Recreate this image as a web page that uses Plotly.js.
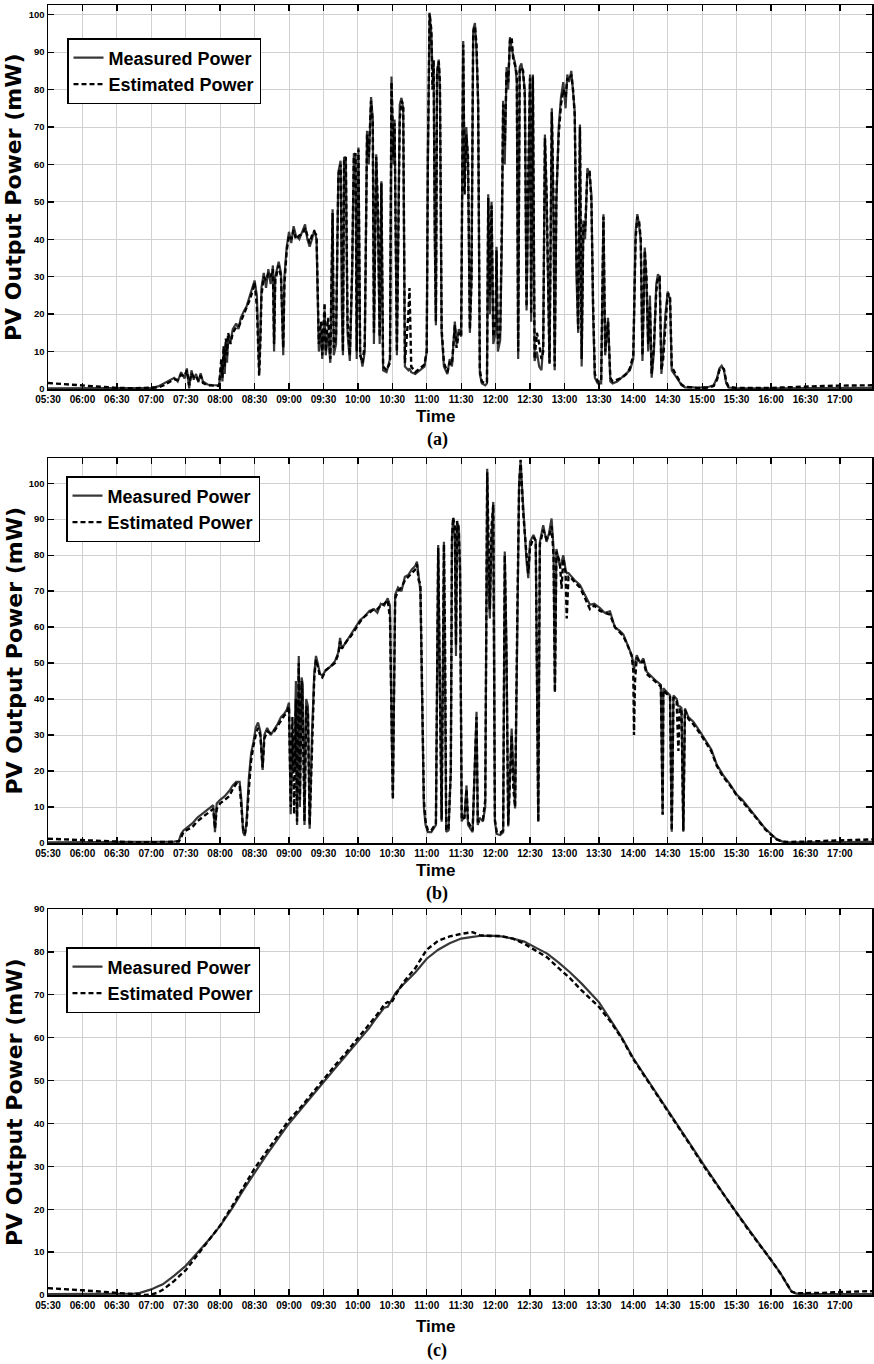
<!DOCTYPE html>
<html>
<head>
<meta charset="utf-8">
<script src="https://cdn.plot.ly/plotly-3.0.1.min.js"></script>
<style>html,body{margin:0;padding:0;background:#fff;}#chart{width:874px;height:1364px;}</style>
</head>
<body>
<div id="chart"></div>
<script>
// ---------- tick labels ----------
const tickLabels = ["05:30","06:00","06:30","07:00","07:30","08:00","08:30","09:00","09:30","10:00","10:30","11:00","11:30","12:00","12:30","13:00","13:30","14:00","14:30","15:00","15:30","16:00","16:30","17:00"];
const seriesNames = ["Measured Power", "Estimated Power"];
const panelLabels = ["(a)", "(b)", "(c)"];

// ---------- panel (a): time in minutes after midnight ----------
const timeA = [330,340,350,360,375,390,405,420,426,431,436,440,443,446,449,451,453,455,457,459,461,463,465,469,474,479,481,482,483,484,485,486,487,489,491,494,496,498,501,503,506,509,510,512,513,514,515,516,518,520,522,524,526,527,528,531,533,535,536,538,540,542,544,546,549,552,554,556,558,560,562,564,565,566,568,569,571,572,574,576,578,579,581,583,585,586,587,588,589.5,591,593,595,596.5,598,599,600.5,602,604,606,608,609.5,611.5,613,614,616,617.5,619,620.5,622,625,628,629.3,631,632,634,636.5,638,639.5,641,644,645,646.5,650,654,658,660,661,662.5,664,665,666,667,668,669,670.5,671.5,673,675,678,680,682,684.5,686,688,690,691.8,693,694.5,696,697.6,699,700.5,702,703.4,704.8,706.3,708,711,712.5,713.6,715,716.5,718,720,720.8,722,724,725.5,726.6,728,729.6,731,732.5,734,735.4,737,738.5,739.7,741,742.5,744,745.5,747,748.5,750,751,752.5,754,756,758,760,761.5,763,764.5,766,767,769,770.5,771.5,773,775,777,779,781,782.5,784,786,787.5,789,790.5,792,793.5,795,796.5,798,800,802,803.5,805,806.5,809,812,814,815.5,818,820,822,826,830,834,837,840,842,843.5,845,846.5,848,850,851.5,853,854.5,856,858,860,861.5,863,864.5,866,868,870,872,873.5,876,879,882,885,890,896,902,906,910,913,915,917,919,921,923,930,960,975,990,1005,1020,1035,1050];
const measA = [0.2,0.2,0.2,0.2,0.2,0.2,0.2,0.3,0.7,1.5,2.2,3.0,2.0,4.5,2.8,5.5,0.2,5.0,2.5,4.0,1.8,4.2,2.0,1.2,1.0,1.0,6.0,2.0,10.0,4.0,12.0,7.0,14.0,12.5,16.0,17.5,16.0,19.0,21.0,22.0,25.0,28.0,29.0,25.0,12.0,5.0,14.0,27.0,31.0,27.0,32.0,28.0,33.0,10.0,30.0,34.0,31.0,9.0,30.0,38.0,42.0,39.0,43.5,41.0,40.0,42.5,44.0,40.0,38.0,40.0,42.5,40.0,25.0,10.0,15.0,8.0,21.0,9.0,15.0,7.0,48.0,9.0,12.0,58.0,61.0,22.0,9.0,62.0,61.0,15.0,7.5,30.0,63.0,62.0,8.0,64.5,10.0,6.0,10.0,69.0,60.0,78.0,72.0,12.0,62.7,45.0,12.0,55.5,5.0,4.5,8.0,83.5,60.0,72.0,9.0,76.0,77.8,75.0,6.0,5.0,5.5,4.5,4.0,5.0,6.0,10.0,60.0,100.0,95.0,85.0,87.5,40.0,17.0,85.0,88.0,80.0,15.0,6.0,4.0,8.0,6.0,18.0,12.0,16.0,14.0,93.0,55.0,70.0,60.0,15.0,30.0,96.0,97.8,90.0,77.0,4.0,1.5,1.0,1.5,52.0,20.0,50.0,12.0,15.0,38.0,10.0,13.0,40.0,77.0,60.0,86.0,80.0,94.0,91.0,89.0,87.0,82.0,8.0,86.0,87.0,84.0,80.0,21.0,60.0,84.0,18.0,84.0,7.5,10.0,6.0,5.0,12.0,68.0,50.0,15.0,6.7,75.0,45.0,5.0,50.0,70.0,78.0,82.0,75.0,84.0,82.0,85.0,78.0,74.0,30.0,15.0,70.7,6.0,45.0,40.0,59.0,57.0,52.0,20.0,3.0,1.5,1.5,46.7,9.0,19.0,2.0,1.5,2.0,3.0,4.0,5.0,8.0,42.0,46.7,44.0,39.6,7.5,37.8,28.0,10.0,25.0,3.0,10.0,28.0,30.7,29.0,4.0,10.0,20.0,26.0,24.0,5.0,4.0,2.5,1.0,0.4,0.5,0.3,0.5,0.6,1.0,3.0,5.5,6.2,5.0,1.5,0.4,0.2,0.2,0.2,0.3,0.3,0.3,0.3,0.3];
const estA = [1.6,1.4,1.1,0.8,0.5,0.3,0.2,0.2,0.4,1.0,1.8,2.6,2.4,3.8,3.4,5.0,1.0,4.2,3.2,3.5,2.2,3.6,1.6,1.0,0.9,0.8,8.0,3.0,11.5,6.0,13.5,9.0,15.0,12.0,15.0,16.5,16.5,18.0,20.0,21.5,24.0,27.0,28.5,22.0,9.0,3.5,12.0,25.0,30.0,29.0,31.0,30.0,32.0,12.0,29.0,33.0,30.0,11.0,28.0,37.0,41.0,40.0,42.5,40.0,41.0,41.5,43.0,41.0,39.0,41.0,42.0,41.0,30.0,12.0,18.0,9.0,23.0,10.0,19.0,8.0,47.0,11.0,14.0,57.0,60.0,24.0,10.0,61.5,62.0,18.0,9.0,32.0,62.0,63.0,10.0,64.0,9.0,7.0,12.0,68.0,62.0,77.0,71.0,15.0,62.0,48.0,14.0,55.0,6.0,5.0,7.0,82.0,62.0,71.0,10.0,72.0,77.0,76.0,7.0,20.0,27.0,6.0,4.5,5.5,6.5,10.0,62.0,100.5,96.0,80.0,88.0,45.0,18.0,84.0,87.5,82.0,16.0,7.0,4.5,7.0,6.5,17.0,11.0,15.0,14.0,92.0,52.0,68.0,62.0,16.0,28.0,95.0,97.0,92.0,76.0,5.0,2.0,1.5,2.0,51.0,25.0,49.0,14.0,18.0,37.0,12.0,15.0,45.0,76.0,65.0,85.0,82.0,93.0,94.0,88.0,86.5,84.0,10.0,85.0,86.0,85.0,78.0,22.0,58.0,83.0,20.0,83.5,8.0,15.0,12.0,8.0,10.0,67.0,52.0,18.0,7.0,74.0,50.0,6.0,52.0,68.0,76.0,80.0,78.0,83.0,82.5,84.0,80.0,73.0,35.0,16.0,70.0,8.0,44.0,42.0,58.0,58.0,50.0,22.0,4.0,2.0,2.0,46.0,10.0,18.0,3.0,2.0,2.5,3.0,4.0,5.5,9.0,40.0,46.0,45.0,40.0,9.0,37.0,30.0,12.0,22.0,4.0,12.0,26.0,30.0,30.0,5.0,8.0,18.0,25.5,25.0,6.0,4.5,3.0,1.2,0.6,0.4,0.3,0.3,0.4,0.8,2.5,5.0,5.8,5.3,2.0,0.6,0.3,0.3,0.5,0.7,0.8,0.9,1.0,1.0];

// ---------- panel (b) ----------
const timeB = [330,345,360,375,390,405,420,430,440,444,446,448,452,456,460,464,468,472,474,475.5,477,480,484,488,491,494,497,498.5,500,501.5,503,505,507,509,511,513,515,517,518.5,521,524,527,530,533,536,538,540,541.5,543,544.5,546,547,548.5,549.5,551,552,553.5,555,556.5,558,560,562,563.5,565,567,569,572,576,580,583,584.5,586,590,594,598,602,606,610,614,617,620,623,626,628,629.5,630.5,631.5,632.5,635,638,641,644,647,650,651.5,653,654.5,656,657.5,659,661,664,666,668,670,671.5,673,675,676,677,679,681,682,683,684.5,685.5,686.5,688,689,690.5,693,694.7,696,700,703.4,704.5,706,709,711,712.7,714,715,716.5,718,719.4,721,724,726.6,728,729.6,731,734,735.5,737,739,740.5,741.8,743,744,747,748.5,750,753,755,756.5,757.2,758,758.6,761.5,764.4,766.5,768.8,770.5,771.7,773,776,777.5,779,781,782,783.5,785,789,793.5,798,802.2,806,811,815,819.7,824,828,831.3,835,838.6,840,840.6,841.5,843,846,848.8,851.7,855,860.4,864,865.6,866.2,869,872,873.5,875,877.8,879.3,880.5,882,883.6,885,888,892.3,898,904,908,912.7,918,924.3,930,935,940,945,950,955,960,965,970,975,990,1005,1020,1035,1048];
const measB = [0.2,0.2,0.2,0.2,0.2,0.2,0.2,0.3,0.4,0.6,2.5,3.5,4.5,5.5,7.0,8.0,9.0,10.0,10.5,3.0,11.0,12.0,13.0,14.5,16.0,17.0,17.0,12.0,3.0,2.0,6.0,18.0,25.0,28.0,32.0,33.5,31.0,20.3,30.0,32.0,30.0,31.5,33.0,35.0,36.0,37.0,39.0,8.0,30.0,20.0,45.0,5.0,52.0,10.0,46.0,44.0,5.0,40.0,38.0,4.0,30.0,47.0,52.0,50.0,47.0,46.5,48.0,49.0,50.5,53.0,57.0,54.0,56.0,58.0,60.0,62.0,63.0,64.5,65.0,64.0,66.5,66.0,68.0,66.0,30.0,13.0,40.0,69.0,71.0,70.0,74.0,74.5,76.0,77.0,78.2,74.0,70.0,40.0,10.0,5.0,3.0,3.0,4.0,5.0,82.8,40.0,5.9,83.7,50.0,3.1,3.5,20.0,85.0,90.0,85.0,52.0,89.0,88.0,76.0,6.0,8.0,16.0,5.0,3.0,36.5,5.0,7.0,6.0,10.0,104.0,70.0,62.4,85.0,94.8,5.9,2.5,2.2,3.0,81.0,52.0,4.6,31.8,20.0,9.6,60.0,100.0,106.0,98.5,93.9,78.2,73.6,83.7,85.6,84.0,20.0,5.9,50.0,83.7,88.3,83.7,86.0,90.2,82.0,42.0,81.7,77.0,78.0,80.0,76.0,75.0,75.0,74.4,73.0,71.7,69.0,66.2,66.5,65.3,64.0,64.4,59.9,59.0,58.0,55.0,52.2,50.0,48.0,50.0,52.2,50.0,51.3,47.6,46.5,44.9,44.0,7.8,43.0,42.0,41.0,3.1,41.0,40.0,38.0,38.0,37.5,3.1,37.4,35.0,33.7,31.0,28.2,26.0,21.8,19.0,16.3,13.5,12.0,10.0,8.0,6.0,4.0,2.5,1.0,0.4,0.2,0.2,0.2,0.3,0.3,0.3];
const estB = [1.2,1.0,0.7,0.5,0.3,0.2,0.2,0.2,0.3,0.4,1.5,3.0,3.8,4.5,6.0,7.0,8.0,9.0,9.5,4.0,9.5,11.0,12.0,13.0,15.0,16.5,16.0,10.0,4.0,2.5,5.0,15.0,23.0,27.0,30.0,32.0,30.0,21.0,29.0,31.0,30.5,31.0,32.5,34.0,35.5,36.0,38.0,10.0,35.0,8.0,40.0,6.0,50.0,12.0,45.0,35.0,6.0,38.0,36.0,5.0,28.0,46.0,51.0,49.0,46.5,46.0,48.0,49.0,50.0,52.5,56.0,54.0,56.0,57.5,59.5,61.5,63.0,64.0,65.0,65.0,66.0,66.5,67.5,62.5,30.0,12.0,42.0,68.0,70.0,71.0,73.0,74.0,75.0,76.0,77.5,73.0,72.0,45.0,12.0,6.0,3.5,3.5,4.5,5.0,82.0,42.0,6.5,83.0,55.0,3.5,4.0,20.0,84.0,90.5,88.0,55.0,89.5,86.0,76.0,6.5,7.0,15.0,6.0,3.5,35.0,6.0,6.0,6.5,12.0,103.0,75.0,65.0,88.0,94.0,6.5,3.0,2.8,3.5,80.0,50.0,5.0,30.0,15.0,10.0,65.0,99.0,106.5,99.0,92.0,80.0,75.0,82.0,85.0,84.0,25.0,6.0,55.0,83.0,87.0,84.5,85.0,88.0,80.0,42.0,81.0,78.0,70.7,79.0,75.0,62.4,74.0,74.0,72.5,71.0,68.0,65.0,66.0,64.5,64.0,63.5,60.0,58.5,57.5,55.0,52.0,48.0,30.0,45.0,51.5,50.0,50.5,47.0,46.0,44.5,43.5,8.0,42.5,41.5,41.0,3.5,40.5,39.5,25.6,37.5,37.0,3.5,37.0,34.5,33.0,30.5,27.5,25.5,21.5,18.5,16.0,13.3,11.5,9.8,7.8,5.8,3.8,2.3,1.0,0.4,0.3,0.4,0.6,0.8,0.9,1.0];

// ---------- panel (c) ----------
const timeC = [330,345,360,375,390,400,405,410,415,420,425,430,440,450,460,470,480,490,500,510,520,530,540,550,560,570,580,590,600,610,615,620,623,626,629,633,640,650,660,670,680,690,700,706,715,725,735,745,755,765,775,785,795,805,810,820,830,840,850,860,870,880,890,900,910,920,930,940,950,960,968,975,978,982,990,1005,1020,1035,1048];
const measC = [0.2,0.2,0.2,0.2,0.2,0.2,0.3,0.5,0.9,1.3,1.9,2.5,4.5,6.8,9.8,12.8,16.1,20.0,24.4,28.6,32.5,36.3,40.0,43.2,46.5,49.6,52.8,56.0,59.0,62.3,64.2,66.0,67.0,67.2,68.5,70.5,72.5,75.2,78.4,80.5,82.0,83.1,83.5,83.7,83.8,83.6,83.1,82.4,81.0,79.6,77.5,75.2,72.6,69.8,68.3,64.2,60.0,55.2,51.2,47.3,43.3,39.1,35.0,30.9,26.8,23.0,19.2,15.5,11.8,8.3,5.2,2.0,0.8,0.3,0.2,0.2,0.2,0.2,0.2];
const estC = [1.6,1.4,1.1,0.8,0.5,0.3,0.1,0.0,0.0,0.1,0.5,1.2,3.3,5.8,9.2,12.6,16.2,20.5,25.0,29.5,33.3,37.0,40.8,43.7,47.0,50.2,53.5,56.6,59.8,63.0,64.8,66.5,67.8,68.3,68.0,70.0,73.0,76.2,80.5,82.6,83.6,84.2,84.6,83.9,83.7,83.7,83.1,81.9,80.3,78.7,76.2,73.8,71.0,68.5,67.2,63.8,59.8,55.0,51.0,47.0,43.0,39.0,34.8,30.6,26.7,22.9,19.0,15.3,11.7,8.2,5.1,2.1,0.8,0.4,0.4,0.5,0.7,0.8,0.9];

// ---------- build ----------
const W = 874, H = 1364;
const tickVals = tickLabels.map(s => { const p = s.split(":"); return (+p[0]) * 60 + (+p[1]); });
const px = v => v / W;
const py = v => 1 - v / H;

const panels = [
  {t: timeA, m: measA, e: estA, top: 5, bot: 389, yr: [0, 102.6], leg: [67, 38], timeY: 417, labY: 440},
  {t: timeB, m: measB, e: estB, top: 458, bot: 843, yr: [0, 107], leg: [66, 476], timeY: 870, labY: 893},
  {t: timeC, m: measC, e: estC, top: 909, bot: 1295, yr: [0, 90], leg: [66, 947], timeY: 1326, labY: 1350}
];

const traces = [];
const layout = {
  width: W, height: H,
  margin: {l: 0, r: 0, t: 0, b: 0},
  paper_bgcolor: "#fff", plot_bgcolor: "#fff",
  showlegend: true,
  annotations: []
};
const tickFontX = {family: "Liberation Sans, Arial, sans-serif", size: 10, color: "#000", weight: "bold"};
const tickFontY = {family: "Liberation Sans, Arial, sans-serif", size: 9.5, color: "#000", weight: "bold"};

panels.forEach((p, i) => {
  const n = i === 0 ? "" : String(i + 1);
  const xa = "x" + n, ya = "y" + n;
  const legName = "legend" + n;
  traces.push({
    x: p.t, y: p.m, type: "scatter", mode: "lines", name: seriesNames[0],
    xaxis: xa, yaxis: ya, legend: legName,
    line: {color: "#383838", width: 2.2}
  });
  traces.push({
    x: p.t, y: p.e, type: "scatter", mode: "lines", name: seriesNames[1],
    xaxis: xa, yaxis: ya, legend: legName,
    line: {color: "#000", width: 2.4, dash: "5px,3px"}
  });
  layout["xaxis" + n] = {
    domain: [px(48), px(872)], anchor: ya, range: [330, 1048],
    tickmode: "array", tickvals: tickVals, ticktext: tickLabels,
    ticks: "inside", ticklen: 6, tickwidth: 1.3, tickcolor: "#000",
    showline: true, linecolor: "#000", linewidth: 1.5, mirror: "ticks",
    showgrid: true, gridcolor: "#d0d0d0", gridwidth: 1, zeroline: false,
    tickfont: tickFontX, fixedrange: true
  };
  layout["yaxis" + n] = {
    domain: [py(p.bot), py(p.top)], anchor: xa, range: p.yr,
    tickmode: "linear", tick0: 0, dtick: 10,
    ticks: "inside", ticklen: 6, tickwidth: 1.3, tickcolor: "#000",
    showline: true, linecolor: "#000", linewidth: 1.5, mirror: "ticks",
    showgrid: true, gridcolor: "#d0d0d0", gridwidth: 1, zeroline: false,
    tickfont: tickFontY, fixedrange: true
  };
  layout[legName] = {
    x: px(p.leg[0]), y: py(p.leg[1]), xanchor: "left", yanchor: "top",
    bgcolor: "#fff", bordercolor: "#000", borderwidth: 1.5,
    font: {family: "Liberation Sans, Arial, sans-serif", size: 18, color: "#000", weight: "bold"},
    tracegroupgap: 0, traceorder: "normal"
  };
  layout.annotations.push({
    text: "PV Output Power (mW)", xref: "paper", yref: "paper",
    x: px(14), y: py((p.top + p.bot) / 2), textangle: -90,
    xanchor: "center", yanchor: "middle", showarrow: false,
    font: {family: "DejaVu Sans, sans-serif", size: 22, color: "#000", weight: "bold"}
  });
  layout.annotations.push({
    text: "Time", xref: "paper", yref: "paper",
    x: px(435), y: py(p.timeY), xanchor: "center", yanchor: "middle", showarrow: false,
    font: {family: "Liberation Sans, Arial, sans-serif", size: 17, color: "#000", weight: "bold"}
  });
  layout.annotations.push({
    text: panelLabels[i], xref: "paper", yref: "paper",
    x: px(437), y: py(p.labY), xanchor: "center", yanchor: "middle", showarrow: false,
    font: {family: "Liberation Serif, Times New Roman, serif", size: 18, color: "#000", weight: "bold"}
  });
});

Plotly.newPlot("chart", traces, layout, {staticPlot: true, displayModeBar: false});
</script>
</body>
</html>
